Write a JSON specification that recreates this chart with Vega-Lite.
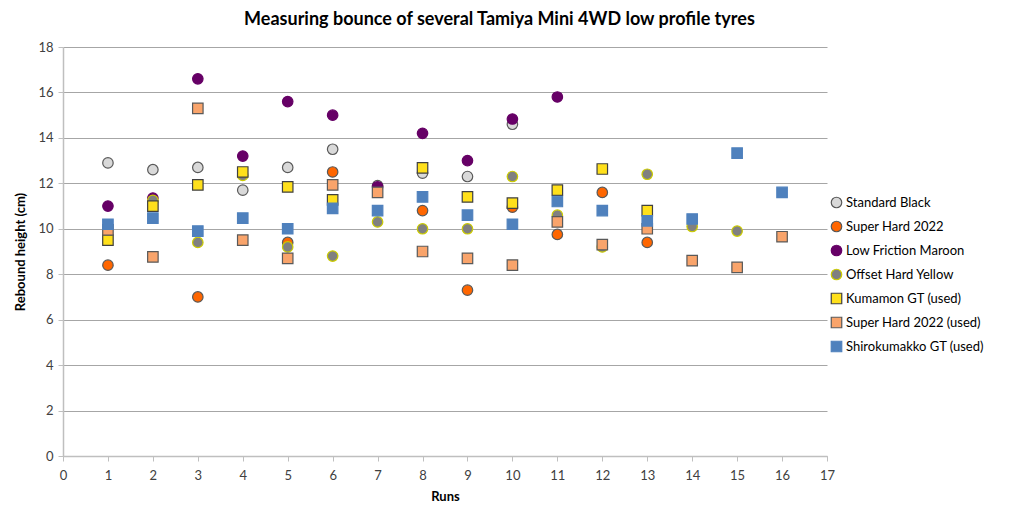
{
  "$schema": "https://vega.github.io/schema/vega-lite/v6.json",
  "autosize": "none",
  "width": 764,
  "height": 409,
  "padding": {"left": 63, "top": 47, "right": 197, "bottom": 63},
  "background": "white",
  "title": {
    "text": "Measuring bounce of several Tamiya Mini 4WD low profile tyres",
    "font": "Lato",
    "fontSize": 18,
    "fontWeight": "bold",
    "color": "#000000",
    "anchor": "middle",
    "frame": "bounds",
    "offset": 12
  },
  "config": {
    "view": {"stroke": null},
    "font": "Lato",
    "axis": {
      "labelFont": "Lato",
      "labelFontSize": 13,
      "labelColor": "#404040",
      "labelFlush": false,
      "titleFont": "Lato",
      "titleFontSize": 13,
      "titleFontWeight": "bold",
      "titleColor": "#000000",
      "domainColor": "#bfbfbf",
      "domainWidth": 1.5,
      "tickColor": "#bfbfbf",
      "tickSize": 5,
      "gridColor": "#a6a6a6",
      "gridWidth": 1
    },
    "legend": {
      "labelFont": "Lato",
      "labelFontSize": 13,
      "labelColor": "#000000",
      "symbolSize": 70,
      "symbolStrokeWidth": 1.2,
      "labelOffset": 3,
      "rowPadding": 7
    }
  },
  "data": {
    "values": [
      {"run": 1, "series": "Standard Black", "height": 12.9},
      {"run": 2, "series": "Standard Black", "height": 12.6},
      {"run": 3, "series": "Standard Black", "height": 12.7},
      {"run": 4, "series": "Standard Black", "height": 11.7},
      {"run": 5, "series": "Standard Black", "height": 12.7},
      {"run": 6, "series": "Standard Black", "height": 13.5},
      {"run": 7, "series": "Standard Black", "height": 11.9},
      {"run": 8, "series": "Standard Black", "height": 12.45},
      {"run": 9, "series": "Standard Black", "height": 12.3},
      {"run": 10, "series": "Standard Black", "height": 14.6},
      {"run": 1, "series": "Super Hard 2022", "height": 8.4},
      {"run": 3, "series": "Super Hard 2022", "height": 7.0},
      {"run": 5, "series": "Super Hard 2022", "height": 9.4},
      {"run": 6, "series": "Super Hard 2022", "height": 12.5},
      {"run": 8, "series": "Super Hard 2022", "height": 10.8},
      {"run": 9, "series": "Super Hard 2022", "height": 7.3},
      {"run": 10, "series": "Super Hard 2022", "height": 10.95},
      {"run": 11, "series": "Super Hard 2022", "height": 9.75},
      {"run": 12, "series": "Super Hard 2022", "height": 11.6},
      {"run": 13, "series": "Super Hard 2022", "height": 9.4},
      {"run": 1, "series": "Low Friction Maroon", "height": 11.0},
      {"run": 2, "series": "Low Friction Maroon", "height": 11.35},
      {"run": 3, "series": "Low Friction Maroon", "height": 16.6},
      {"run": 4, "series": "Low Friction Maroon", "height": 13.2},
      {"run": 5, "series": "Low Friction Maroon", "height": 15.6},
      {"run": 6, "series": "Low Friction Maroon", "height": 15.0},
      {"run": 7, "series": "Low Friction Maroon", "height": 11.85},
      {"run": 8, "series": "Low Friction Maroon", "height": 14.2},
      {"run": 9, "series": "Low Friction Maroon", "height": 13.0},
      {"run": 10, "series": "Low Friction Maroon", "height": 14.83},
      {"run": 11, "series": "Low Friction Maroon", "height": 15.8},
      {"run": 2, "series": "Offset Hard Yellow", "height": 11.25},
      {"run": 3, "series": "Offset Hard Yellow", "height": 9.4},
      {"run": 4, "series": "Offset Hard Yellow", "height": 12.35},
      {"run": 5, "series": "Offset Hard Yellow", "height": 9.2},
      {"run": 6, "series": "Offset Hard Yellow", "height": 8.8},
      {"run": 7, "series": "Offset Hard Yellow", "height": 10.3},
      {"run": 8, "series": "Offset Hard Yellow", "height": 10.0},
      {"run": 9, "series": "Offset Hard Yellow", "height": 10.0},
      {"run": 10, "series": "Offset Hard Yellow", "height": 12.3},
      {"run": 11, "series": "Offset Hard Yellow", "height": 10.6},
      {"run": 12, "series": "Offset Hard Yellow", "height": 9.2},
      {"run": 13, "series": "Offset Hard Yellow", "height": 12.4},
      {"run": 14, "series": "Offset Hard Yellow", "height": 10.1},
      {"run": 15, "series": "Offset Hard Yellow", "height": 9.9},
      {"run": 1, "series": "Kumamon GT (used)", "height": 9.5},
      {"run": 2, "series": "Kumamon GT (used)", "height": 11.0},
      {"run": 3, "series": "Kumamon GT (used)", "height": 11.93},
      {"run": 4, "series": "Kumamon GT (used)", "height": 12.5},
      {"run": 5, "series": "Kumamon GT (used)", "height": 11.84},
      {"run": 6, "series": "Kumamon GT (used)", "height": 11.27},
      {"run": 8, "series": "Kumamon GT (used)", "height": 12.68},
      {"run": 9, "series": "Kumamon GT (used)", "height": 11.4},
      {"run": 10, "series": "Kumamon GT (used)", "height": 11.13},
      {"run": 11, "series": "Kumamon GT (used)", "height": 11.7},
      {"run": 12, "series": "Kumamon GT (used)", "height": 12.63},
      {"run": 13, "series": "Kumamon GT (used)", "height": 10.8},
      {"run": 1, "series": "Super Hard 2022 (used)", "height": 9.95},
      {"run": 2, "series": "Super Hard 2022 (used)", "height": 8.76},
      {"run": 3, "series": "Super Hard 2022 (used)", "height": 15.3},
      {"run": 4, "series": "Super Hard 2022 (used)", "height": 9.5},
      {"run": 5, "series": "Super Hard 2022 (used)", "height": 8.7},
      {"run": 6, "series": "Super Hard 2022 (used)", "height": 11.93},
      {"run": 7, "series": "Super Hard 2022 (used)", "height": 11.6},
      {"run": 8, "series": "Super Hard 2022 (used)", "height": 9.0},
      {"run": 9, "series": "Super Hard 2022 (used)", "height": 8.7},
      {"run": 10, "series": "Super Hard 2022 (used)", "height": 8.4},
      {"run": 11, "series": "Super Hard 2022 (used)", "height": 10.3},
      {"run": 12, "series": "Super Hard 2022 (used)", "height": 9.3},
      {"run": 13, "series": "Super Hard 2022 (used)", "height": 10.0},
      {"run": 14, "series": "Super Hard 2022 (used)", "height": 8.6},
      {"run": 15, "series": "Super Hard 2022 (used)", "height": 8.3},
      {"run": 16, "series": "Super Hard 2022 (used)", "height": 9.65},
      {"run": 1, "series": "Shirokumakko GT (used)", "height": 10.2},
      {"run": 2, "series": "Shirokumakko GT (used)", "height": 10.47},
      {"run": 3, "series": "Shirokumakko GT (used)", "height": 9.9},
      {"run": 4, "series": "Shirokumakko GT (used)", "height": 10.47},
      {"run": 5, "series": "Shirokumakko GT (used)", "height": 10.0},
      {"run": 6, "series": "Shirokumakko GT (used)", "height": 10.9},
      {"run": 7, "series": "Shirokumakko GT (used)", "height": 10.8},
      {"run": 8, "series": "Shirokumakko GT (used)", "height": 11.4},
      {"run": 9, "series": "Shirokumakko GT (used)", "height": 10.6},
      {"run": 10, "series": "Shirokumakko GT (used)", "height": 10.2},
      {"run": 11, "series": "Shirokumakko GT (used)", "height": 11.2},
      {"run": 12, "series": "Shirokumakko GT (used)", "height": 10.8},
      {"run": 13, "series": "Shirokumakko GT (used)", "height": 10.35},
      {"run": 14, "series": "Shirokumakko GT (used)", "height": 10.43},
      {"run": 15, "series": "Shirokumakko GT (used)", "height": 13.33},
      {"run": 16, "series": "Shirokumakko GT (used)", "height": 11.6}
    ]
  },
  "mark": {"type": "point", "filled": true, "opacity": 1, "strokeWidth": 1.2},
  "encoding": {
    "x": {
      "field": "run",
      "type": "quantitative",
      "title": "Runs",
      "scale": {"domain": [0, 17], "nice": false},
      "axis": {
        "values": [0, 1, 2, 3, 4, 5, 6, 7, 8, 9, 10, 11, 12, 13, 14, 15, 16, 17],
        "grid": false,
        "labelPadding": 8,
        "titlePadding": 8
      }
    },
    "y": {
      "field": "height",
      "type": "quantitative",
      "title": "Rebound height (cm)",
      "scale": {"domain": [0, 18], "nice": false},
      "axis": {
        "values": [0, 2, 4, 6, 8, 10, 12, 14, 16, 18],
        "grid": true,
        "labelPadding": 5,
        "titlePadding": 10
      }
    },
    "color": {
      "field": "series",
      "type": "nominal",
      "title": null,
      "scale": {
        "domain": ["Standard Black", "Super Hard 2022", "Low Friction Maroon", "Offset Hard Yellow", "Kumamon GT (used)", "Super Hard 2022 (used)", "Shirokumakko GT (used)"],
        "range": ["#d9d9d9", "#ff6600", "#660066", "#808080", "#ffe01b", "#f9a46b", "#4f81bd"]
      },
      "legend": {"orient": "none", "legendX": 767, "legendY": 149}
    },
    "stroke": {
      "field": "series",
      "type": "nominal",
      "title": null,
      "scale": {
        "domain": ["Standard Black", "Super Hard 2022", "Low Friction Maroon", "Offset Hard Yellow", "Kumamon GT (used)", "Super Hard 2022 (used)", "Shirokumakko GT (used)"],
        "range": ["#595959", "#595959", "#660066", "#cccc00", "#404040", "#595959", "#4f81bd"]
      },
      "legend": {"orient": "none", "legendX": 767, "legendY": 149}
    },
    "shape": {
      "field": "series",
      "type": "nominal",
      "title": null,
      "scale": {
        "domain": ["Standard Black", "Super Hard 2022", "Low Friction Maroon", "Offset Hard Yellow", "Kumamon GT (used)", "Super Hard 2022 (used)", "Shirokumakko GT (used)"],
        "range": ["circle", "circle", "circle", "circle", "square", "square", "square"]
      },
      "legend": {"orient": "none", "legendX": 767, "legendY": 149}
    },
    "size": {
      "field": "series",
      "type": "nominal",
      "scale": {
        "domain": ["Standard Black", "Super Hard 2022", "Low Friction Maroon", "Offset Hard Yellow", "Kumamon GT (used)", "Super Hard 2022 (used)", "Shirokumakko GT (used)"],
        "range": [110, 110, 110, 110, 150, 150, 150]
      },
      "legend": null
    }
  }
}
